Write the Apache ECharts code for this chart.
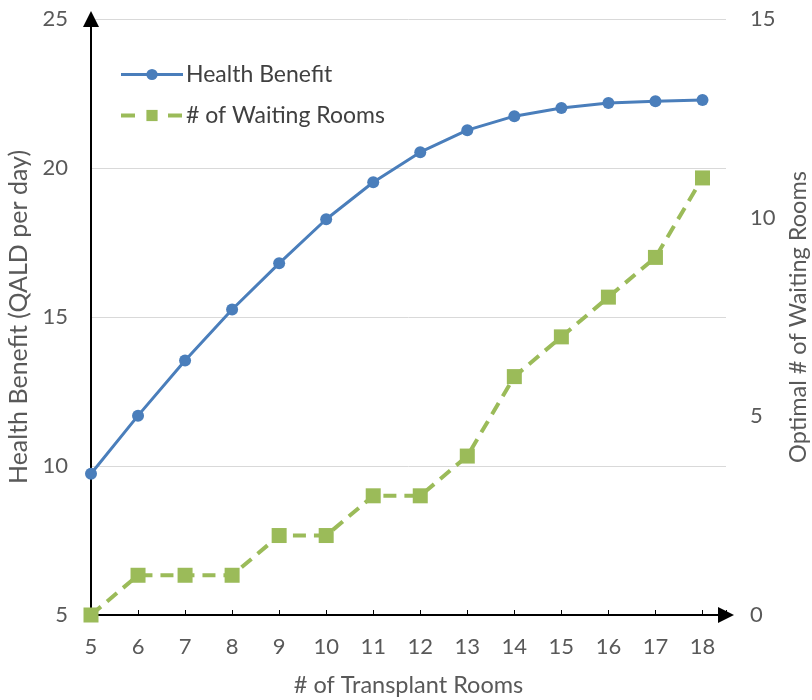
<!DOCTYPE html>
<html><head><meta charset="utf-8">
<script src="https://cdn.jsdelivr.net/npm/echarts@6/dist/echarts.min.js"></script>
<style>html,body{margin:0;padding:0;background:#fff}#c{width:812px;height:700px}</style>
</head><body><div id="c"></div>
<script>
var transplantRooms = [5, 6, 7, 8, 9, 10, 11, 12, 13, 14, 15, 16, 17, 18];
var healthBenefit = [9.74, 11.69, 13.54, 15.25, 16.8, 18.28, 19.52, 20.53, 21.27, 21.74, 22.01, 22.18, 22.24, 22.28];
var waitingRooms = [0, 1, 1, 1, 2, 2, 3, 3, 4, 6, 7, 8, 9, 11];
var leftTicks = [5, 10, 15, 20, 25];
var rightTicks = [0, 5, 10, 15];

var FONT = 'Lato';
var chart = echarts.init(document.getElementById('c'));
function pairs(xs, ys){ return xs.map(function(x,i){ return [x, ys[i]]; }); }
chart.setOption({
  animation: false,
  textStyle: {fontFamily: FONT},
  grid: {left: 91, right: 86, top: 19, bottom: 85, containLabel: false, outerBoundsMode: 'none'},
  legend: {
    left: 114, top: 58, orient: 'vertical', itemGap: 18,
    itemWidth: 62, itemHeight: 14,
    textStyle: {fontFamily: FONT, fontSize: 23, color: '#404040', padding: [0,0,0,-2]},
    data: [
      {name: 'Health Benefit', lineStyle: {width: 3}},
      {name: '# of Waiting Rooms', lineStyle: {width: 4, type: [14, 33]}}
    ]
  },
  xAxis: {
    type: 'value', min: 5, max: 18.5, interval: 1,
    name: '# of Transplant Rooms', nameLocation: 'middle', nameGap: 58,
    nameTextStyle: {fontFamily: FONT, fontSize: 23.5, color: '#595959'},
    axisLine: {lineStyle: {color: '#000', width: 2}, symbol: ['none', 'triangle'], symbolSize: [16, 16], symbolOffset: [0, 0]},
    axisTick: {show: true, inside: true, length: 5, lineStyle: {color: '#000', width: 1}},
    axisLabel: {fontFamily: FONT, fontSize: 22, color: '#595959', margin: 21,
      formatter: function(v){ return transplantRooms.indexOf(v) >= 0 ? String(v) : ''; }},
    splitLine: {show: false}
  },
  yAxis: [{
    type: 'value', min: leftTicks[0], max: leftTicks[leftTicks.length-1], interval: 5,
    name: 'Health Benefit (QALD per day)', nameLocation: 'middle', nameGap: 56, nameRotate: 90,
    nameTextStyle: {fontFamily: FONT, fontSize: 25, color: '#595959'},
    axisLine: {show: true, lineStyle: {color: '#000', width: 2}, symbol: ['none', 'triangle'], symbolSize: [16, 16]},
    axisTick: {show: false},
    axisLabel: {fontFamily: FONT, fontSize: 22, color: '#595959', margin: 23},
    splitLine: {show: true, lineStyle: {color: '#D9D9D9', width: 1}}
  }, {
    type: 'value', min: rightTicks[0], max: rightTicks[rightTicks.length-1], interval: 5,
    position: 'right',
    name: 'Optimal # of Waiting Rooms', nameLocation: 'middle', nameGap: 58, nameRotate: 90,
    nameTextStyle: {fontFamily: FONT, fontSize: 23.5, color: '#595959'},
    axisLine: {show: false},
    axisTick: {show: false},
    axisLabel: {fontFamily: FONT, fontSize: 22, color: '#595959', margin: 24},
    splitLine: {show: false}
  }],
  series: [{
    name: 'Health Benefit', type: 'line', yAxisIndex: 0,
    data: pairs(transplantRooms, healthBenefit),
    symbol: 'circle', symbolSize: 12,
    lineStyle: {color: '#4A7EBB', width: 3},
    itemStyle: {color: '#4A7EBB'}
  }, {
    name: '# of Waiting Rooms', type: 'line', yAxisIndex: 1,
    data: pairs(transplantRooms, waitingRooms),
    symbol: 'rect', symbolSize: 15,
    lineStyle: {color: '#9BBB59', width: 4, type: [13, 8]},
    itemStyle: {color: '#9BBB59'}
  }]
});
</script></body></html>
